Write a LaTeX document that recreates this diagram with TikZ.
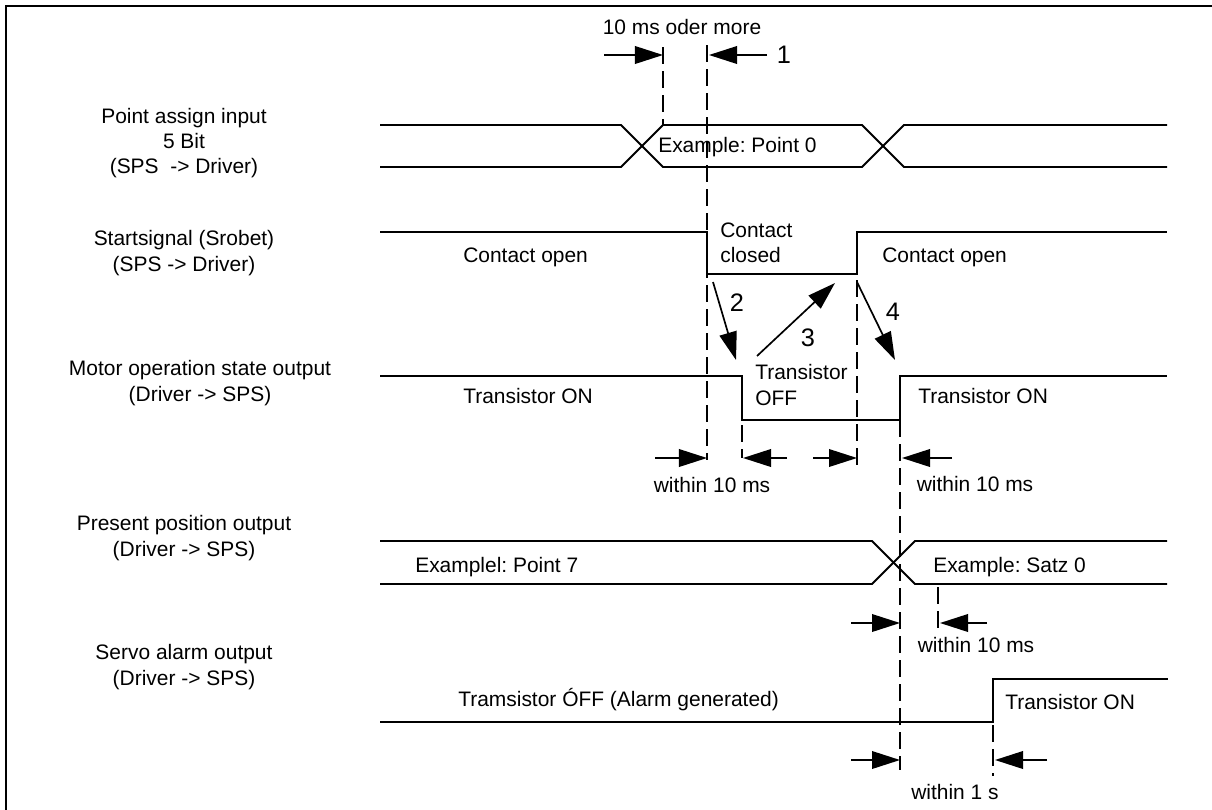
\documentclass[tikz,border=0pt]{standalone}
\usepackage{fontspec}
\setmainfont{Liberation Sans}
\usetikzlibrary{arrows.meta, positioning}
\tikzset{
  tdSignal/.style={line width=1.4pt, line join=miter},
  tdGuide/.style={line width=1.2pt, dash pattern=on 0.42cm off 0.18cm},
  tdArrow/.style={-{Triangle[length=0.7cm, width=0.44cm]}, line width=1.2pt},
  tdText/.style={inner sep=0pt, font=\fontsize{14.9}{17.9}\selectfont},
  tdName/.style={tdText, align=center},
  tdState/.style={tdText, anchor=west, align=left},
  tdStep/.style={inner sep=0pt, font=\fontsize{18}{21}\selectfont}
}
\frenchspacing

\begin{document}
\begin{tikzpicture}[x=0.025cm, y=-0.025cm]
  \useasboundingbox (0,0) rectangle (1212,810);
  \draw[line width=1.2pt] (6,810) -- (6,6) -- (1212,6);

  % signal names
  \node[tdName] (nPoint) at (184,143) {Point assign input\\5 Bit\\(SPS~ -> Driver)};
  \node[tdName] (nStart) at (184,253) {Startsignal (Srobet)\\(SPS -> Driver)};
  \node[tdName] (nMotor) at (200,383) {Motor operation state output\\(Driver -> SPS)};
  \node[tdName] (nPos) at (184,538) {Present position output\\(Driver -> SPS)};
  \node[tdName] (nAlarm) at (184,667) {Servo alarm output\\(Driver -> SPS)};

  % waveforms
  \draw[tdSignal] (380,125) -- (621,125) -- (663,167) -- (862,167) -- (904,125) -- (1167,125);
  \draw[tdSignal] (380,167) -- (621,167) -- (663,125) -- (862,125) -- (904,167) -- (1167,167);
  \draw[tdSignal] (380,232) -- (707,232) -- (707,274) -- (857,274) -- (857,232) -- (1167,232);
  \draw[tdSignal] (380,376) -- (742,376) -- (742,420) -- (900,420) -- (900,376) -- (1167,376);
  \draw[tdSignal] (380,541) -- (872,541) -- (915,584) -- (1167,584);
  \draw[tdSignal] (380,584) -- (872,584) -- (915,541) -- (1167,541);
  \draw[tdSignal] (380,722) -- (993,722) -- (993,679) -- (1168,679);

  % state texts
  \node[tdState] (sPoint0) at (658,147) {Example: Point 0};
  \node[tdState] (sOpenA) at (463,257) {Contact open};
  \node[tdState] (sClosed) at (720,243) {Contact\\closed};
  \node[tdState] (sOpenB) at (882,257) {Contact open};
  \node[tdState] (sOnA) at (463,396) {Transistor ON};
  \node[tdState] (sOff) at (755,385) {Transistor\\OFF};
  \node[tdState] (sOnB) at (918,396) {Transistor ON};
  \node[tdState] (sPoint7) at (415,567) {Examplel: Point 7};
  \node[tdState] (sSatz) at (933,567) {Example: Satz 0};
  \node[tdState] (sAlarm) at (458,700) {Tramsistor ÓFF (Alarm generated)};
  \node[tdState] (sOnC) at (1005,702) {Transistor ON};

  % guide lines
  \draw[tdGuide] (663,47) -- (663,125);
  \draw[tdGuide] (707,45) -- (707,460);
  \draw[tdGuide] (742,425) -- (742,458);
  \draw[tdGuide] (857,280) -- (857,472);
  \draw[tdGuide] (900,420) -- (900,770);
  \draw[tdGuide] (938,587) -- (938,632);
  \draw[tdGuide] (993,725) -- (993,776);

  % timing marks
  \node[tdText] (tMore) at (682,27) {10 ms oder more};
  \draw[tdArrow] (604,55) -- (663,55);
  \draw[tdArrow] (767,55) -- (709,55);
  \node[tdStep] (tOne) at (784,55) {1};

  \draw[tdArrow] (655,458) -- (707,458);
  \draw[tdArrow] (787,458) -- (743,458);
  \node[tdText] (tWithinA) at (712,485) {within 10 ms};
  \draw[tdArrow] (813,458) -- (857,458);
  \draw[tdArrow] (952,458) -- (902,458);
  \node[tdText] (tWithinB) at (975,484) {within 10 ms};
  \draw[tdArrow] (851,623) -- (900,623);
  \draw[tdArrow] (987,623) -- (940,623);
  \node[tdText] (tWithinC) at (976,645) {within 10 ms};
  \draw[tdArrow] (851,760) -- (900,760);
  \draw[tdArrow] (1047,760) -- (995,760);
  \node[tdText] (tWithinD) at (955,792) {within 1 s};

  % sequence steps
  \coordinate (fall) at (713,282);
  \coordinate (motOff) at (736,360);
  \coordinate (offUp) at (757,356);
  \coordinate (rise) at (835,283);
  \coordinate (open) at (857,282);
  \coordinate (motOn) at (895,360);
  \draw[tdArrow] (fall) -- (motOff);
  \draw[tdArrow] (offUp) -- (rise);
  \draw[tdArrow] (open) -- (motOn);
  \node[tdStep] (kTwo) at (737,303) {2};
  \node[tdStep] (kThree) at (808,338) {3};
  \node[tdStep] (kFour) at (893,312) {4};
\end{tikzpicture}
\end{document}
